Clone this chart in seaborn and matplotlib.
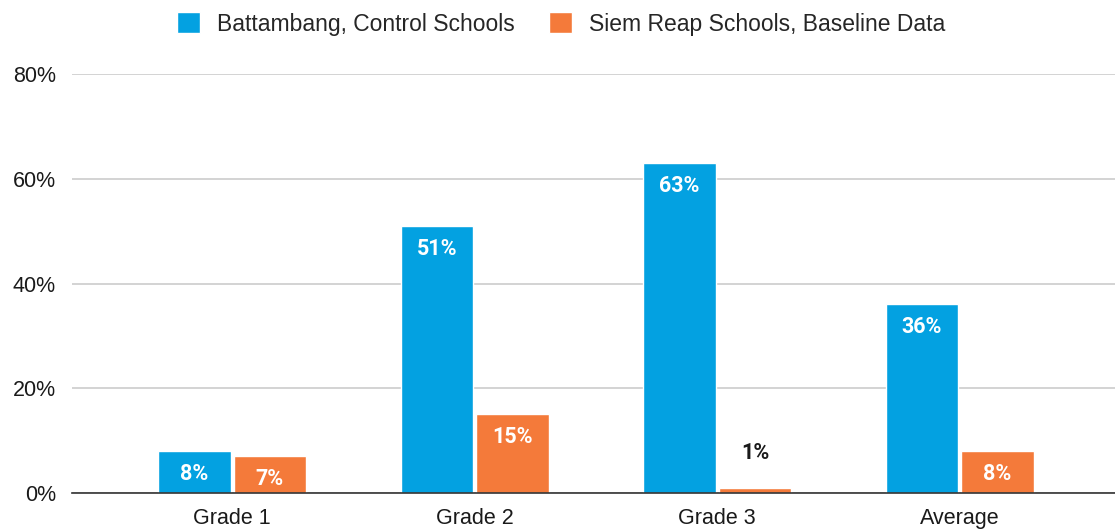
import pandas as pd
import seaborn as sns
import matplotlib.pyplot as plt
from matplotlib.ticker import FuncFormatter

# Chart data
categories = ['Grade 1', 'Grade 2', 'Grade 3', 'Average']
battambang = [8, 51, 63, 36]
siem_reap = [7, 15, 1, 8]
series_names = ['Battambang, Control Schools', 'Siem Reap Schools, Baseline Data']

df = pd.DataFrame({
    'grade': categories * 2,
    'value': battambang + siem_reap,
    'series': [series_names[0]] * len(categories) + [series_names[1]] * len(categories),
})

sns.set_theme(style='white')
plt.rcParams['font.family'] = ['Liberation Sans', 'DejaVu Sans']

colors = ['#03A1E1', '#F47A3A']

fig = plt.figure(figsize=(11.15, 5.29), dpi=100)
ax = fig.add_axes([72 / 1115, 1 - 493 / 529, 1 - 72 / 1115, (493 - 74) / 529])

sns.barplot(data=df, x='grade', y='value', hue='series', palette=colors,
            width=0.623, gap=0.04, ax=ax, saturation=1, legend=True)

ax.set_ylim(0, 80)
ax.set_xlim(-0.66, 3.64)
ax.set_yticks([0, 20, 40, 60, 80])
ax.yaxis.set_major_formatter(FuncFormatter(lambda v, p: f'{v:.0f}%'))
ax.grid(axis='y', color='#cccccc', linewidth=1.2)
ax.set_axisbelow(True)
for s in ['top', 'right', 'left']:
    ax.spines[s].set_visible(False)
ax.spines['bottom'].set_color('#333333')
ax.spines['bottom'].set_linewidth(1.2)
ax.set_xlabel('')
ax.set_ylabel('')
ax.tick_params(axis='both', length=0, labelsize=15.5, colors='#1a1a1a')
ax.tick_params(axis='y', pad=11.5)
ax.tick_params(axis='x', pad=10.5)

# value labels
for cont in ax.containers:
    for bar in cont:
        h = bar.get_height()
        cx = bar.get_x() + bar.get_width() / 2
        if h >= 4:
            ax.text(cx, h - 4.4, f'{h:.0f}%', ha='center', va='center',
                    color='white', fontsize=15.5, fontweight='bold', family=['Roboto', 'DejaVu Sans'])
        else:
            ax.text(cx, h + 6.7, f'{h:.0f}%', ha='center', va='center',
                    color='#1a1a1a', fontsize=15.5, fontweight='bold', family=['Roboto', 'DejaVu Sans'])

handles, labels = ax.get_legend_handles_labels()
ax.get_legend().remove()
fig.legend(handles, labels, loc='center', bbox_to_anchor=(561 / 1115, 1 - 24 / 529), ncol=2,
           frameon=False, fontsize=16.5, handlelength=1.0, handleheight=1.0,
           columnspacing=1.5, handletextpad=0.75, borderaxespad=0)

fig.savefig('out.png', dpi=100)
